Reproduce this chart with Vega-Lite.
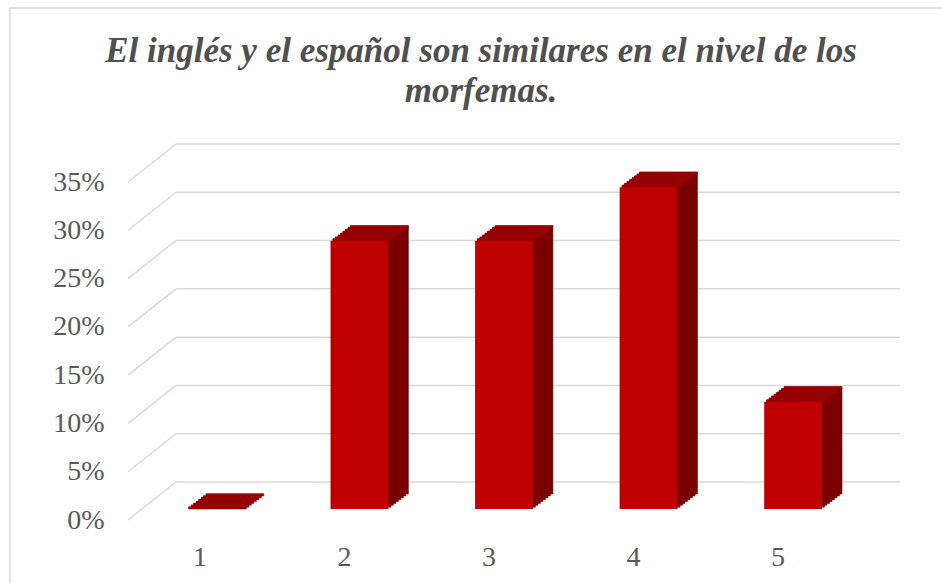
{
  "$schema": "https://vega.github.io/schema/vega-lite/v6.json",
  "autosize": {"type": "none"},
  "padding": {"left": 10, "top": 8, "right": 0, "bottom": 0},
  "width": 942,
  "height": 600,
  "background": "white",
  "title": {
    "text": ["El inglés y el español son similares en el nivel de los", "morfemas."],
    "font": "Liberation Serif",
    "fontSize": 35,
    "fontWeight": "bold",
    "fontStyle": "italic",
    "color": "#505050",
    "anchor": "middle",
    "frame": "group",
    "baseline": "alphabetic",
    "lineHeight": 40,
    "offset": 0,
    "dy": 129
  },
  "datasets": {
    "bars": [
      {"nivel": "1", "porcentaje": 0},
      {"nivel": "2", "porcentaje": 0.2778},
      {"nivel": "3", "porcentaje": 0.2778},
      {"nivel": "4", "porcentaje": 0.3333},
      {"nivel": "5", "porcentaje": 0.1111}
    ],
    "ticks": [
      {"v": 0}, {"v": 0.05}, {"v": 0.1}, {"v": 0.15},
      {"v": 0.2}, {"v": 0.25}, {"v": 0.3}, {"v": 0.35}
    ]
  },
  "resolve": {"scale": {"x": "independent"}},
  "layer": [
    {
      "data": {"name": "ticks"},
      "encoding": {
        "y": {
          "field": "v", "type": "quantitative",
          "scale": {"domain": [0, 0.35], "range": [501, 163], "nice": false},
          "axis": {
            "title": null, "orient": "left", "domain": false, "ticks": false, "grid": false,
            "values": [0, 0.05, 0.1, 0.15, 0.2, 0.25, 0.3, 0.35], "format": ".0%",
            "labelPadding": 0, "labelOffset": 11, "offset": -94, "labelBaseline": "middle",
            "labelFont": "Liberation Serif", "labelFontSize": 28, "labelColor": "#595959",
            "labelOverlap": false, "labelBound": false
          }
        },
        "y2": {"field": "v"}
      },
      "layer": [
        {
          "mark": {"type": "rule", "stroke": "#d9d9d9", "strokeWidth": 1.5, "yOffset": 11, "y2Offset": -27},
          "encoding": {
            "x": {"datum": 0.1253, "type": "quantitative", "scale": {"domain": [0, 1], "nice": false, "zero": false}, "axis": null},
            "x2": {"datum": 0.1762}
          }
        },
        {
          "mark": {"type": "rule", "stroke": "#d9d9d9", "strokeWidth": 1.5, "yOffset": -27, "y2Offset": -27},
          "encoding": {
            "x": {"datum": 0.1762, "type": "quantitative", "scale": {"domain": [0, 1], "nice": false, "zero": false}, "axis": null},
            "x2": {"datum": 0.9448}
          }
        }
      ]
    },
    {
      "data": {"name": "bars"},
      "encoding": {
        "x": {
          "field": "nivel", "type": "nominal",
          "scale": {"range": [176, 812], "paddingInner": 0.6, "paddingOuter": 0},
          "axis": {
            "title": null, "orient": "bottom", "domain": false, "ticks": false, "grid": false,
            "labelAngle": 0, "labelPadding": 0, "labelBaseline": "alphabetic", "labelOffset": -15,
            "offset": -43, "labelFont": "Liberation Serif", "labelFontSize": 28, "labelColor": "#595959"
          }
        },
        "y": {
          "field": "porcentaje", "type": "quantitative",
          "scale": {"domain": [0, 0.35], "range": [501, 163], "nice": false},
          "axis": {
            "title": null, "orient": "left", "domain": false, "ticks": false, "grid": false,
            "values": [0, 0.05, 0.1, 0.15, 0.2, 0.25, 0.3, 0.35], "format": ".0%",
            "labelPadding": 0, "labelOffset": 11, "offset": -94, "labelBaseline": "middle",
            "labelFont": "Liberation Serif", "labelFontSize": 28, "labelColor": "#595959",
            "labelOverlap": false, "labelBound": false
          }
        }
      },
      "layer": [
        {"mark": {"type": "bar", "color": "#7B0000", "stroke": "#7B0000", "strokeWidth": 0.6, "xOffset": 2.5, "yOffset": -1.875, "y2Offset": -1.875}},
        {"mark": {"type": "bar", "color": "#7B0000", "stroke": "#7B0000", "strokeWidth": 0.6, "xOffset": 5, "yOffset": -3.75, "y2Offset": -3.75}},
        {"mark": {"type": "bar", "color": "#7B0000", "stroke": "#7B0000", "strokeWidth": 0.6, "xOffset": 7.5, "yOffset": -5.625, "y2Offset": -5.625}},
        {"mark": {"type": "bar", "color": "#7B0000", "stroke": "#7B0000", "strokeWidth": 0.6, "xOffset": 10, "yOffset": -7.5, "y2Offset": -7.5}},
        {"mark": {"type": "bar", "color": "#7B0000", "stroke": "#7B0000", "strokeWidth": 0.6, "xOffset": 12.5, "yOffset": -9.375, "y2Offset": -9.375}},
        {"mark": {"type": "bar", "color": "#7B0000", "stroke": "#7B0000", "strokeWidth": 0.6, "xOffset": 15, "yOffset": -11.25, "y2Offset": -11.25}},
        {"mark": {"type": "bar", "color": "#7B0000", "stroke": "#7B0000", "strokeWidth": 0.6, "xOffset": 17.5, "yOffset": -13.125, "y2Offset": -13.125}},
        {"mark": {"type": "bar", "color": "#7B0000", "stroke": "#7B0000", "strokeWidth": 0.6, "xOffset": 20, "yOffset": -15, "y2Offset": -15}},
        {"mark": {"type": "bar", "color": "#960000", "stroke": "#960000", "strokeWidth": 0.6, "xOffset": 2.5, "yOffset": -1.875, "y2Offset": 0}, "encoding": {"y2": {"field": "porcentaje"}}},
        {"mark": {"type": "bar", "color": "#960000", "stroke": "#960000", "strokeWidth": 0.6, "xOffset": 5, "yOffset": -3.75, "y2Offset": -1.875}, "encoding": {"y2": {"field": "porcentaje"}}},
        {"mark": {"type": "bar", "color": "#960000", "stroke": "#960000", "strokeWidth": 0.6, "xOffset": 7.5, "yOffset": -5.625, "y2Offset": -3.75}, "encoding": {"y2": {"field": "porcentaje"}}},
        {"mark": {"type": "bar", "color": "#960000", "stroke": "#960000", "strokeWidth": 0.6, "xOffset": 10, "yOffset": -7.5, "y2Offset": -5.625}, "encoding": {"y2": {"field": "porcentaje"}}},
        {"mark": {"type": "bar", "color": "#960000", "stroke": "#960000", "strokeWidth": 0.6, "xOffset": 12.5, "yOffset": -9.375, "y2Offset": -7.5}, "encoding": {"y2": {"field": "porcentaje"}}},
        {"mark": {"type": "bar", "color": "#960000", "stroke": "#960000", "strokeWidth": 0.6, "xOffset": 15, "yOffset": -11.25, "y2Offset": -9.375}, "encoding": {"y2": {"field": "porcentaje"}}},
        {"mark": {"type": "bar", "color": "#960000", "stroke": "#960000", "strokeWidth": 0.6, "xOffset": 17.5, "yOffset": -13.125, "y2Offset": -11.25}, "encoding": {"y2": {"field": "porcentaje"}}},
        {"mark": {"type": "bar", "color": "#960000", "stroke": "#960000", "strokeWidth": 0.6, "xOffset": 20, "yOffset": -15, "y2Offset": -13.125}, "encoding": {"y2": {"field": "porcentaje"}}},
        {"mark": {"type": "bar", "color": "#C00000"}}
      ]
    }
  ],
  "config": {
    "font": "Liberation Serif",
    "view": {"stroke": "#d9d9d9", "strokeWidth": 1.5},
    "axis": {"labelFont": "Liberation Serif"},
    "title": {"font": "Liberation Serif"}
  }
}
